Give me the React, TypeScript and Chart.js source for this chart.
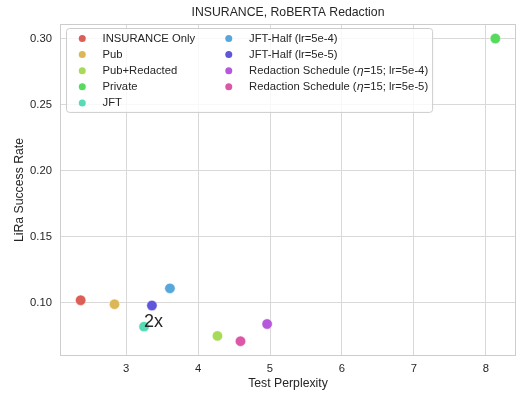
import React, { useEffect, useRef } from "react";
import { Chart, registerables } from "chart.js";

Chart.register(...registerables);

// Methods compared, with their test perplexity and LiRA attack success rate
const methods = [
  "INSURANCE Only",
  "Pub",
  "Pub+Redacted",
  "Private",
  "JFT",
  "JFT-Half (lr=5e-4)",
  "JFT-Half (lr=5e-5)",
  "Redaction Schedule (η=15; lr=5e-4)",
  "Redaction Schedule (η=15; lr=5e-5)",
];
const perplexity = [2.37, 2.84, 4.27, 8.13, 3.25, 3.61, 3.36, 4.96, 4.59];
const successRate = [0.102, 0.099, 0.075, 0.3, 0.082, 0.111, 0.098, 0.084, 0.071];
const colors = [
  "#db5f57",
  "#dbb757",
  "#a7db57",
  "#57db5f",
  "#57dbb7",
  "#57a7db",
  "#5f57db",
  "#b757db",
  "#db57a7",
];

const xTicks = [3, 4, 5, 6, 7, 8];
const yTicks = [0.1, 0.15, 0.2, 0.25, 0.3];

const chartTitle = "INSURANCE, RoBERTA Redaction";
const xTitle = "Test Perplexity";
const yTitle = "LiRa Success Rate";

// "2x" note attached to the JFT point
const noteText = "2x";
const noteIndex = 4;

const FONT = '"Liberation Sans", Arial, Helvetica, sans-serif';
const TEXT = "#262626";
const GRID = "#d9d9d9";
const EDGE = "#cccccc";
const SMALL = 11.25;
const MEDIUM = 12.25;

const framePlugin = {
  id: "frame",
  beforeDatasetsDraw(chart: any) {
    const { ctx, chartArea: a } = chart;
    ctx.save();
    ctx.strokeStyle = EDGE;
    ctx.lineWidth = 1;
    ctx.strokeRect(a.left + 0.5, a.top + 0.5, a.right - a.left - 1, a.bottom - a.top - 1);
    ctx.restore();
  },
};

const titlePlugin = {
  id: "plotTitle",
  afterDraw(chart: any) {
    const { ctx, chartArea: a } = chart;
    ctx.save();
    ctx.fillStyle = TEXT;
    ctx.font = `${MEDIUM}px ${FONT}`;
    ctx.textAlign = "center";
    ctx.textBaseline = "middle";
    ctx.fillText(chartTitle, (a.left + a.right) / 2, a.top - 11.5);
    ctx.restore();
  },
};

function drawLabel(ctx: any, text: string, x: number, y: number) {
  const parts = text.split("η");
  let cx = x;
  parts.forEach((p, i) => {
    ctx.font = `${SMALL}px ${FONT}`;
    ctx.fillText(p, cx, y);
    cx += ctx.measureText(p).width;
    if (i < parts.length - 1) {
      ctx.font = `italic ${SMALL}px "DejaVu Sans", ${FONT}`;
      ctx.fillText("η", cx, y);
      cx += ctx.measureText("η").width;
    }
  });
  return cx - x;
}

function labelWidth(ctx: any, text: string) {
  const parts = text.split("η");
  let w = 0;
  parts.forEach((p, i) => {
    ctx.font = `${SMALL}px ${FONT}`;
    w += ctx.measureText(p).width;
    if (i < parts.length - 1) {
      ctx.font = `italic ${SMALL}px "DejaVu Sans", ${FONT}`;
      w += ctx.measureText("η").width;
    }
  });
  return w;
}

// Two-column legend, filled column by column
const legendPlugin = {
  id: "colLegend",
  afterDatasetsDraw(chart: any) {
    const { ctx, chartArea: a } = chart;
    const rows = 5;
    const pad = 4.5;
    const handle = 22.5;
    const textPad = 9;
    const colGap = 22.5;
    const rowStep = 16.1;
    const col1 = methods.slice(0, rows);
    const col2 = methods.slice(rows);
    ctx.save();
    const w1 = Math.max(...col1.map((t) => labelWidth(ctx, t)));
    const w2 = Math.max(...col2.map((t) => labelWidth(ctx, t)));
    const left = a.left + 6.5;
    const top = a.top + 4.5;
    const width = pad * 2 + handle + textPad + w1 + colGap + handle + textPad + w2;
    const height = pad * 2 + (rows - 1) * rowStep + 10.5;
    ctx.beginPath();
    ctx.roundRect(left, top, width, height, 3);
    ctx.fillStyle = "rgba(255,255,255,0.8)";
    ctx.fill();
    ctx.strokeStyle = EDGE;
    ctx.lineWidth = 1;
    ctx.stroke();
    ctx.textBaseline = "middle";
    ctx.textAlign = "left";
    methods.forEach((m, i) => {
      const col = i < rows ? 0 : 1;
      const row = col === 0 ? i : i - rows;
      const colX = left + pad + (col === 0 ? 0 : handle + textPad + w1 + colGap);
      const y = top + pad + 5.5 + row * rowStep;
      ctx.beginPath();
      ctx.arc(colX + handle / 2, y, 3.5, 0, Math.PI * 2);
      ctx.fillStyle = colors[i];
      ctx.fill();
      ctx.fillStyle = TEXT;
      drawLabel(ctx, m, colX + handle + textPad, y);
    });
    ctx.restore();
  },
};

const notePlugin = {
  id: "note",
  afterDatasetsDraw(chart: any) {
    const { ctx, scales } = chart;
    const x = scales.x.getPixelForValue(perplexity[noteIndex]);
    const y = scales.y.getPixelForValue(successRate[noteIndex]);
    ctx.save();
    ctx.fillStyle = TEXT;
    ctx.font = `18px ${FONT}`;
    ctx.textAlign = "left";
    ctx.textBaseline = "alphabetic";
    ctx.fillText(noteText, x, y);
    ctx.restore();
  },
};

export default function App() {
  const canvasRef = useRef<HTMLCanvasElement | null>(null);

  useEffect(() => {
    const canvas = canvasRef.current;
    if (!canvas) return;
    const chart = new Chart(canvas, {
      type: "scatter",
      data: {
        datasets: methods.map((m, i) => ({
          label: m,
          data: [{ x: perplexity[i], y: successRate[i] }],
          backgroundColor: colors[i],
          borderColor: "#ffffff",
          borderWidth: 0.5,
          pointRadius: 5.2,
        })),
      },
      options: {
        responsive: false,
        animation: false,
        devicePixelRatio: 1,
        layout: { padding: { left: 0, right: 8, top: 24, bottom: 0 } },
        plugins: {
          legend: { display: false },
          tooltip: { enabled: false },
        },
        scales: {
          x: {
            type: "linear",
            min: 2.083,
            max: 8.417,
            afterBuildTicks: (s: any) => {
              s.ticks = xTicks.map((value) => ({ value }));
            },
            afterFit: (s: any) => {
              s.height = 38;
            },
            ticks: {
              color: TEXT,
              font: { family: FONT, size: SMALL },
              padding: 6,
              callback: (v: any) => String(v),
            },
            grid: { color: GRID, lineWidth: 1, drawTicks: false },
            border: { display: false },
            title: {
              display: true,
              text: xTitle,
              color: TEXT,
              font: { family: FONT, size: MEDIUM },
              padding: { top: 0, bottom: 3 },
            },
          },
          y: {
            type: "linear",
            min: 0.0598,
            max: 0.311,
            afterBuildTicks: (s: any) => {
              s.ticks = yTicks.map((value) => ({ value }));
            },
            afterFit: (s: any) => {
              s.width = 60;
            },
            ticks: {
              color: TEXT,
              font: { family: FONT, size: SMALL },
              padding: 8,
              callback: (v: any) => Number(v).toFixed(2),
            },
            grid: { color: GRID, lineWidth: 1, drawTicks: false },
            border: { display: false },
            title: {
              display: true,
              text: yTitle,
              color: TEXT,
              font: { family: FONT, size: MEDIUM },
              padding: { top: 12, bottom: 0 },
            },
          },
        },
      } as any,
      plugins: [framePlugin, titlePlugin, legendPlugin, notePlugin],
    });
    return () => chart.destroy();
  }, []);

  return (
    <div
      style={{
        position: "fixed",
        left: 0,
        top: 0,
        width: 524,
        height: 394,
        background: "#ffffff",
      }}
    >
      <canvas ref={canvasRef} width={524} height={394} style={{ display: "block" }} />
    </div>
  );
}
